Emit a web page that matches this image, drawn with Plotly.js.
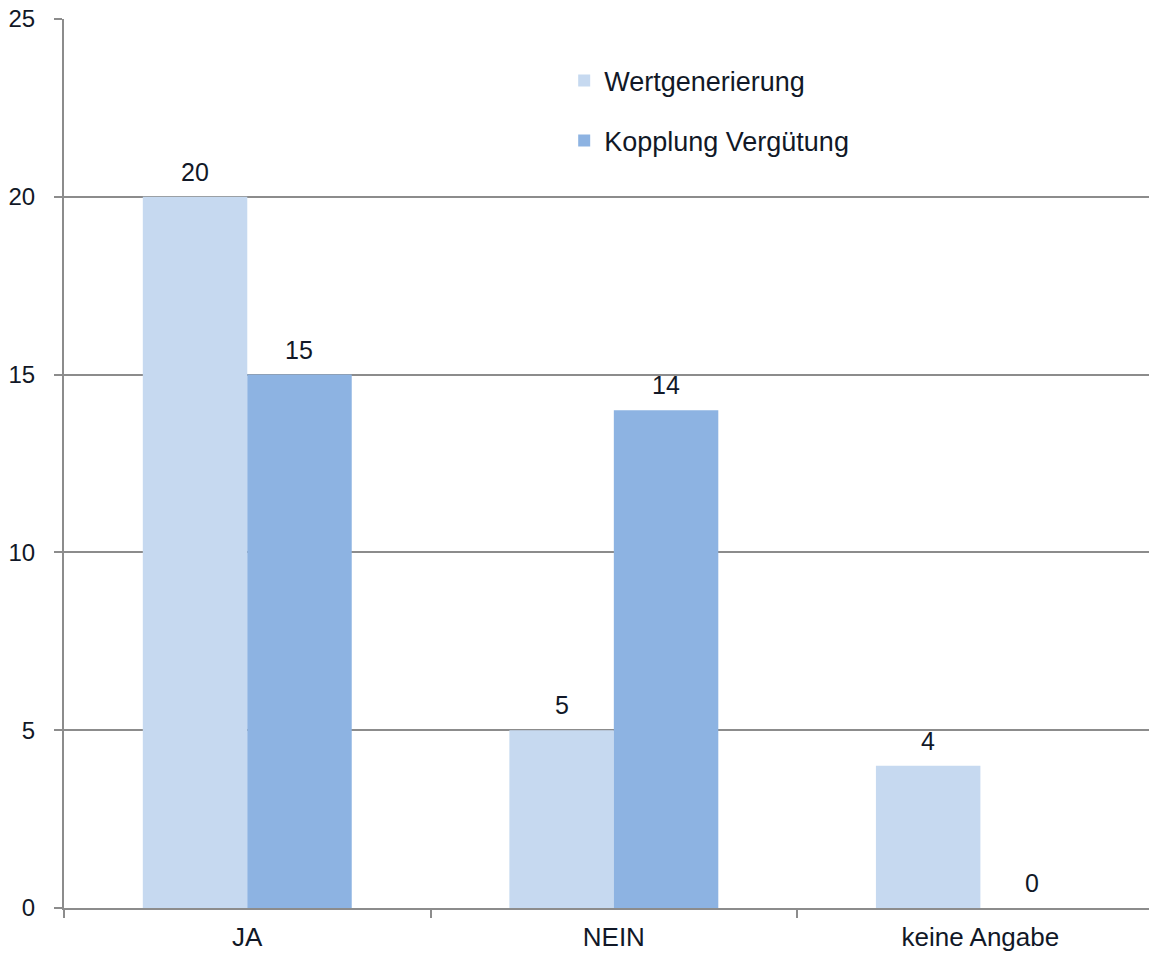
<!DOCTYPE html>
<html>
<head>
<meta charset="utf-8">
<script src="https://cdn.plot.ly/plotly-3.0.1.min.js"></script>
<style>html,body{margin:0;padding:0;background:#fff;}#chart{width:1149px;height:956px;}</style>
</head>
<body>
<div id="chart"></div>
<script>
const categories = ["JA", "NEIN", "keine Angabe"];
const seriesNames = ["Wertgenerierung", "Kopplung Vergütung"];
const wertgenerierung = [20, 5, 4];
const kopplungVerguetung = [15, 14, 0];
const yTicks = [0, 5, 10, 15, 20, 25];

const textColor = "#111827";
const gridColor = "#8c8c8c";
const fontFam = "Liberation Sans, Arial, sans-serif";

const traces = [
  {
    type: "bar", name: seriesNames[0], x: categories, y: wertgenerierung,
    marker: {color: "#c6d9f0"}, legendgroup: "a"
  },
  {
    type: "bar", name: seriesNames[1], x: categories, y: kopplungVerguetung,
    marker: {color: "#8db3e2"}, legendgroup: "b"
  }
];

const annotations = [];
[wertgenerierung, kopplungVerguetung].forEach((vals, si) => {
  vals.forEach((v, i) => {
    annotations.push({
      xref: "x", yref: "y", x: categories[i], y: v,
      xshift: si === 0 ? -52 : 52, yshift: 9,
      yanchor: "bottom", xanchor: "center", showarrow: false,
      text: String(v), font: {family: fontFam, size: 25, color: textColor}
    });
  });
});

const layout = {
  width: 1149, height: 956,
  margin: {l: 64, r: 0, t: 19, b: 48},
  paper_bgcolor: "#fff", plot_bgcolor: "#fff",
  font: {family: fontFam, size: 24, color: textColor},
  barmode: "group",
  bargap: 0.43, bargroupgap: 0,
  showlegend: true,
  legend: {
    x: 0.461, y: 0.958, xanchor: "left", yanchor: "top",
    bgcolor: "rgba(0,0,0,0)", tracegroupgap: 22,
    font: {size: 27, color: textColor}, itemwidth: 30
  },
  annotations: annotations,
  xaxis: {
    type: "category", range: [-0.5, 2.46],
    showline: true, linecolor: gridColor, linewidth: 2,
    ticks: "outside", tickson: "boundaries", ticklen: 8, tickwidth: 2, tickcolor: gridColor,
    showgrid: false, zeroline: false,
    tickfont: {size: 26, color: textColor}, ticklabelstandoff: 5
  },
  yaxis: {
    range: [0, 25], tickvals: yTicks, ticktext: yTicks.map(String),
    showline: true, linecolor: gridColor, linewidth: 2,
    ticks: "outside", ticklen: 8, tickwidth: 2, tickcolor: gridColor,
    showgrid: true, gridcolor: gridColor, gridwidth: 2,
    zeroline: false,
    tickfont: {size: 24, color: textColor}, ticklabelstandoff: 14
  }
};

Plotly.newPlot("chart", traces, layout, {displayModeBar: false, staticPlot: true});
</script>
</body>
</html>
